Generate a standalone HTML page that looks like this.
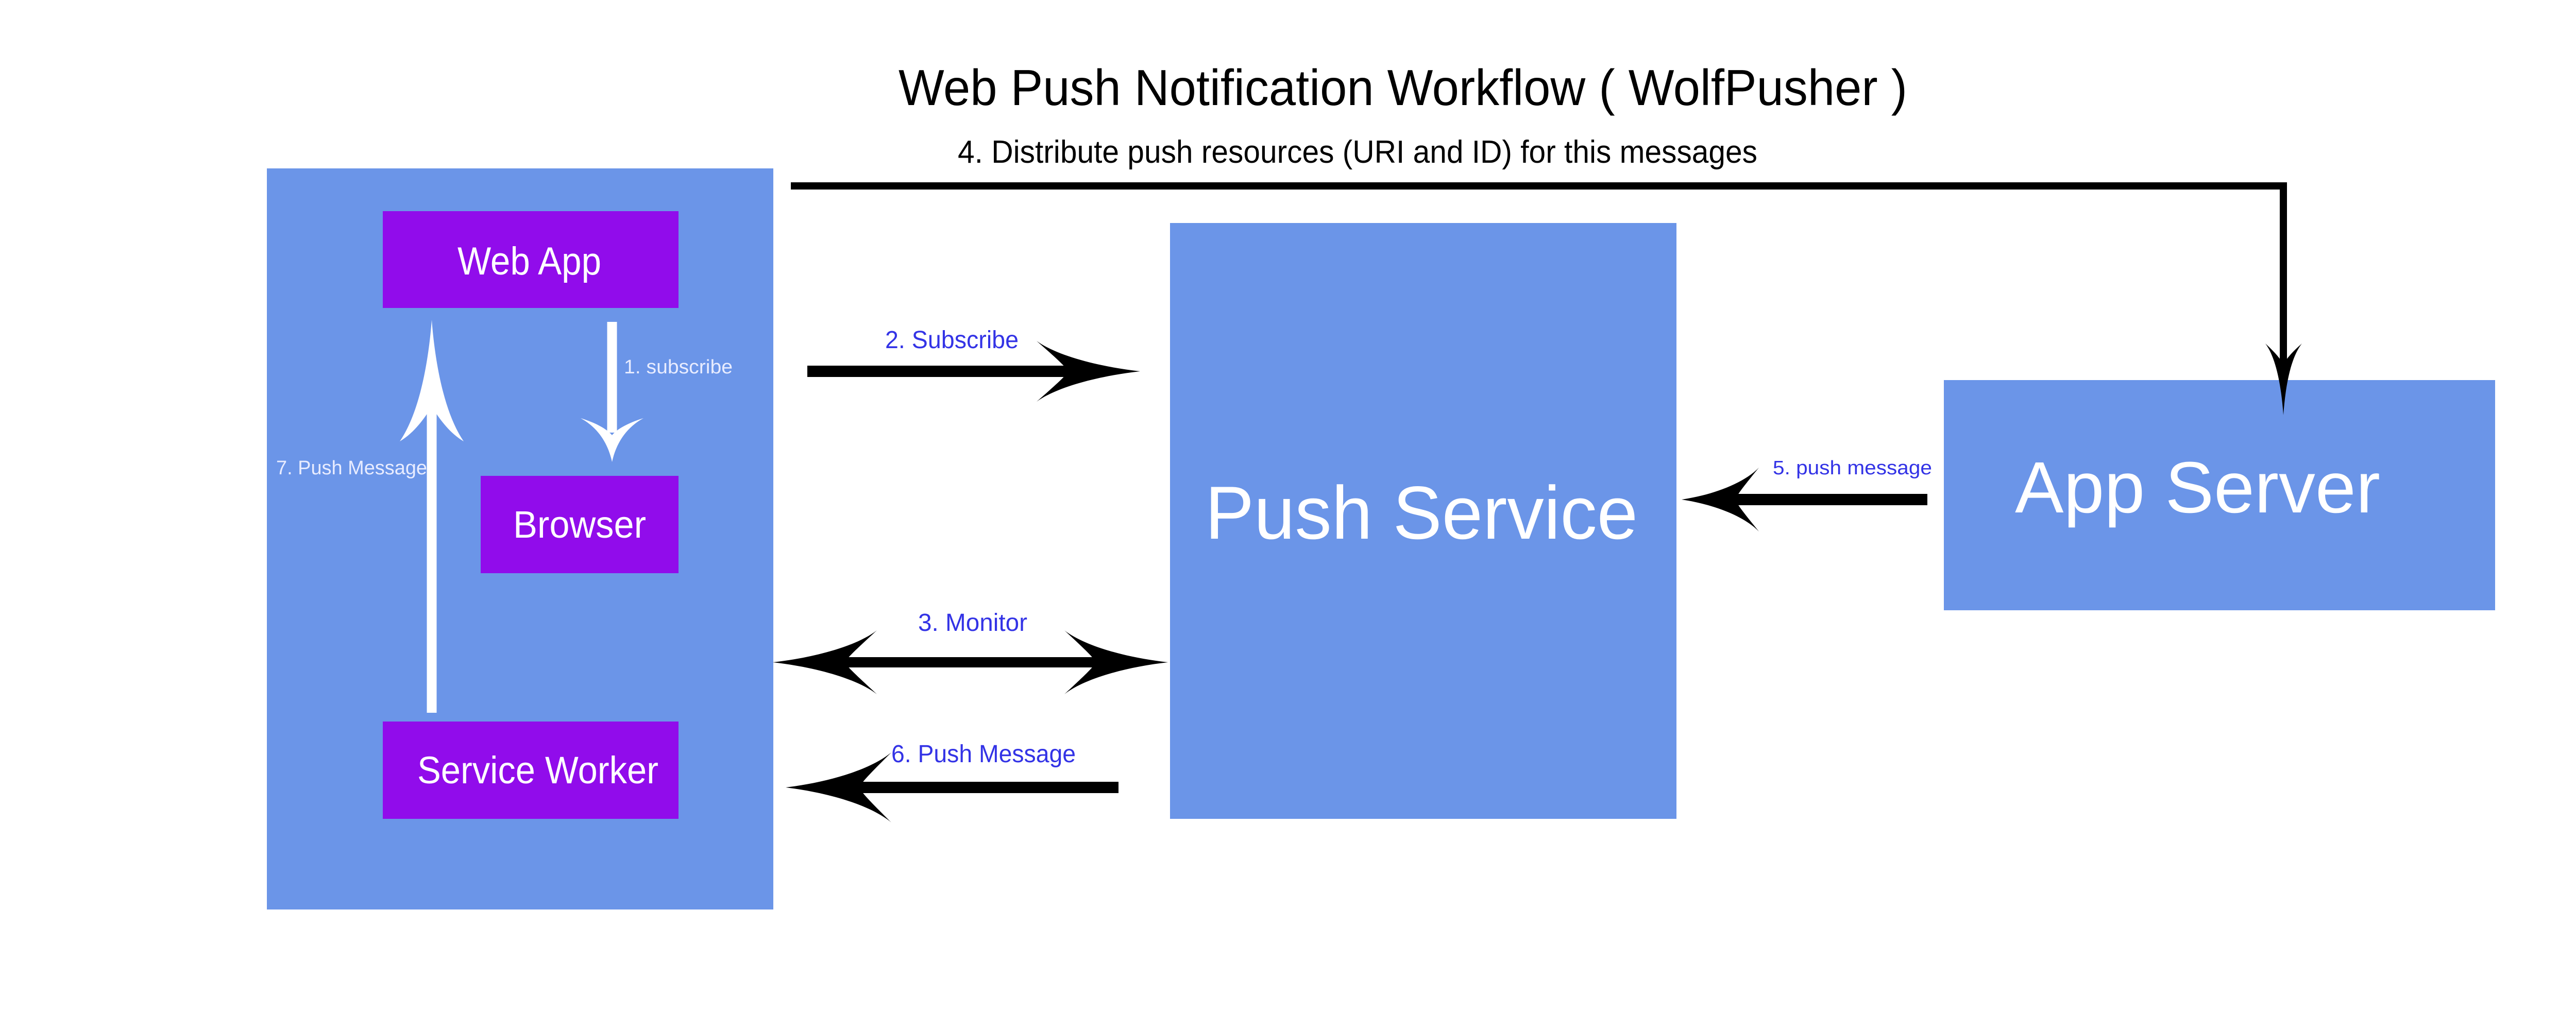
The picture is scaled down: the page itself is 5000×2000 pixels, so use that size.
<!DOCTYPE html>
<html><head><meta charset="utf-8"><style>
html,body{margin:0;padding:0;background:#fff;width:5000px;height:2000px;overflow:hidden}
svg{display:block}
text{font-family:"Liberation Sans",sans-serif}
</style></head><body>
<svg width="5000" height="2000" viewBox="0 0 5000 2000" xmlns="http://www.w3.org/2000/svg">
<rect width="5000" height="2000" fill="#fff"/>
<!-- title -->
<text x="1744" y="204" font-size="98" fill="#000" textLength="1958" lengthAdjust="spacingAndGlyphs">Web Push Notification Workflow ( WolfPusher )</text>
<text x="1859" y="316" font-size="62" fill="#000" textLength="1552" lengthAdjust="spacingAndGlyphs">4. Distribute push resources (URI and ID) for this messages</text>

<!-- left panel -->
<rect x="518" y="327" width="983" height="1439" fill="#6b95e8"/>
<rect x="743" y="410" width="574" height="188" fill="#910ceb"/>
<rect x="933" y="924" width="384" height="189" fill="#910ceb"/>
<rect x="743" y="1401" width="574" height="189" fill="#910ceb"/>
<text x="888" y="533" font-size="76" fill="#fff" textLength="279" lengthAdjust="spacingAndGlyphs">Web App</text>
<text x="996" y="1044" font-size="74" fill="#fff" textLength="258" lengthAdjust="spacingAndGlyphs">Browser</text>
<text x="810" y="1521" font-size="74" fill="#fff" textLength="468" lengthAdjust="spacingAndGlyphs">Service Worker</text>
<text x="1211" y="725" font-size="38" fill="#e8ecff" textLength="211" lengthAdjust="spacingAndGlyphs">1. subscribe</text>
<text x="536" y="921" font-size="38" fill="#e8ecff" textLength="293" lengthAdjust="spacingAndGlyphs">7. Push Message</text>

<!-- white arrows -->
<line x1="1188" y1="625" x2="1188" y2="840" stroke="#fff" stroke-width="19"/>
<path d="M1188,897 C1180,860 1160,830 1127,812 C1160,822 1180,835 1188,845 C1196,835 1216,822 1249,812 C1216,830 1196,860 1188,897Z" fill="#fff"/>
<line x1="838" y1="1384" x2="838" y2="760" stroke="#fff" stroke-width="19"/>
<path d="M838,621 C832,700 815,800 776,857 C805,840 825,810 838,790 C851,810 871,840 900,857 C861,800 844,700 838,621Z" fill="#fff"/>

<!-- push service -->
<rect x="2271" y="433" width="983" height="1157" fill="#6b95e8"/>
<text x="2339" y="1046" font-size="146" fill="#fff" textLength="840" lengthAdjust="spacingAndGlyphs">Push Service</text>

<!-- app server -->
<rect x="3773" y="738" width="1070" height="447" fill="#6b95e8"/>
<text x="3911" y="995" font-size="141" fill="#fff" textLength="709" lengthAdjust="spacingAndGlyphs">App Server</text>

<!-- top connector 4 -->
<polyline points="1535,361 4432,361 4432,730" fill="none" stroke="#000" stroke-width="14"/>
<path d="M4432,806 C4428,750 4418,695 4397,667 C4420,688 4430,702 4432,709 C4434,702 4444,688 4468,667 C4446,695 4436,750 4432,806Z" fill="#000"/>

<!-- 2. subscribe -->
<line x1="1567" y1="721" x2="2100" y2="721" stroke="#000" stroke-width="22"/>
<path d="M2213,721 C2133,712 2052,691 2012,662 C2052,697 2072,715 2072,721 C2072,727 2052,745 2012,780 C2052,751 2133,730 2213,721Z" fill="#000"/>
<text x="1718" y="676" font-size="48" fill="#3333e6" textLength="259" lengthAdjust="spacingAndGlyphs">2. Subscribe</text>

<!-- 3. monitor -->
<line x1="1630" y1="1286" x2="2140" y2="1286" stroke="#000" stroke-width="20"/>
<path d="M2267,1286 C2187,1277 2106,1255 2066,1224 C2106,1261 2126,1280 2126,1286 C2126,1292 2106,1311 2066,1348 C2106,1317 2187,1295 2267,1286Z" fill="#000"/>
<path d="M1500,1286 C1580,1277 1662,1255 1702,1224 C1662,1261 1641,1280 1641,1286 C1641,1292 1662,1311 1702,1348 C1662,1317 1580,1295 1500,1286Z" fill="#000"/>
<text x="1782" y="1225" font-size="48" fill="#3333e6" textLength="212" lengthAdjust="spacingAndGlyphs">3. Monitor</text>

<!-- 6. push message -->
<line x1="1650" y1="1529" x2="2171" y2="1529" stroke="#000" stroke-width="22"/>
<path d="M1525,1529 C1607,1519 1689,1495 1730,1461 C1689,1502 1669,1522 1669,1529 C1669,1536 1689,1556 1730,1597 C1689,1563 1607,1539 1525,1529Z" fill="#000"/>
<text x="1730" y="1480" font-size="48" fill="#3333e6" textLength="358" lengthAdjust="spacingAndGlyphs">6. Push Message</text>

<!-- 5. push message -->
<line x1="3350" y1="970" x2="3741" y2="970" stroke="#000" stroke-width="22"/>
<path d="M3264,970 C3324,961 3384,939 3414,908 C3384,945 3369,964 3369,970 C3369,976 3384,995 3414,1032 C3384,1001 3324,979 3264,970Z" fill="#000"/>
<text x="3441" y="921" font-size="38" fill="#3333e6" textLength="309" lengthAdjust="spacingAndGlyphs">5. push message</text>
</svg>
</body></html>
